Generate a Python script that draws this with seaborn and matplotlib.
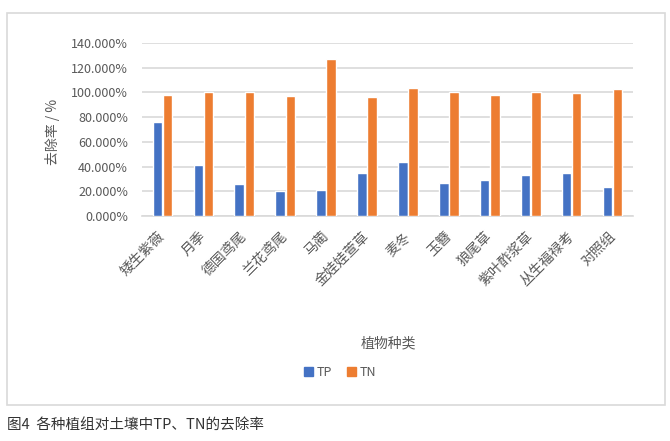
import matplotlib
matplotlib.use("Agg")
import matplotlib.pyplot as plt
from matplotlib.patches import Rectangle
from matplotlib.ticker import FuncFormatter
import seaborn as sns
import pandas as pd

plants = ["矮生紫薇", "月季", "德国鸢尾", "兰花鸢尾", "马蔺", "金娃娃萱草",
          "麦冬", "玉簪", "狼尾草", "紫叶酢浆草", "丛生福禄考", "对照组"]
tp = [75.8, 41.2, 25.7, 20.6, 21.1, 34.9, 43.6, 26.5, 29.2, 33.0, 34.4, 23.3]
tn = [97.8, 100.7, 100.5, 97.5, 127.3, 96.7, 103.4, 100.5, 97.8, 100.5, 99.4, 102.6]
series = ["TP", "TN"]
yticks = [0, 20, 40, 60, 80, 100, 120, 140]

df = pd.DataFrame({
    "植物种类": plants * 2,
    "去除率": tp + tn,
    "指标": ["TP"] * len(plants) + ["TN"] * len(plants),
})

sns.set_theme(style="white")
plt.rcParams["font.family"] = ["Noto Sans CJK SC", "DejaVu Sans"]

fig = plt.figure(figsize=(6.7, 4.41), dpi=100)
ax = fig.add_axes([142/670, 1-216/441, (633-142)/670, (216-43)/441])

palette = {"TP": "#4472C4", "TN": "#ED7D31"}
sns.barplot(data=df, x="植物种类", y="去除率", hue="指标", hue_order=series,
            palette=palette, width=0.5, gap=0.07, ax=ax, legend=False,
            saturation=1, zorder=3)

ax.set_ylim(0, 140)
ax.set_yticks(yticks)
ax.yaxis.set_major_formatter(FuncFormatter(lambda v, p: f"{v:.3f}%"))
ax.grid(axis="y", color="#D9D9D9", linewidth=1.2, zorder=0)
ax.set_axisbelow(True)
for s in ["top", "right", "left"]:
    ax.spines[s].set_visible(False)
ax.spines["bottom"].set_color("#D9D9D9")
ax.spines["bottom"].set_linewidth(1.2)
ax.tick_params(axis="both", length=0, colors="#595959")
ax.tick_params(axis="y", labelsize=9, pad=10)
ax.tick_params(axis="x", labelsize=10, pad=13)
for lab in ax.get_xticklabels():
    lab.set_rotation(45)
    lab.set_ha("right")
    lab.set_rotation_mode("anchor")
    lab.set_va("center")
ax.set_xlabel("")
ax.set_ylabel("")

fig.text(53/670, 1-132/441, "去除率 / %", rotation=90, ha="center", va="center",
         fontsize=10, color="#595959")
fig.text(388/670, 1-343/441, "植物种类", ha="center", va="center",
         fontsize=10, color="#595959")

handles = [Rectangle((0, 0), 1, 1, color=palette[s]) for s in series]
fig.legend(handles, series, loc="center", bbox_to_anchor=(340/670, 1-372/441),
           ncol=2, frameon=False, handlelength=0.7, handleheight=0.7,
           columnspacing=1.2, handletextpad=0.3, fontsize=9,
           labelcolor="#595959")

fig.patches.append(Rectangle((7/670, 1-405/441), (665-7)/670, (405-13)/441,
                             transform=fig.transFigure, fill=False,
                             edgecolor="#D9D9D9", linewidth=1.2))

fig.text(7/670, 1-425/441, "图4  各种植组对土壤中TP、TN的去除率", ha="left",
         va="center", fontsize=10.5, color="#333333")

fig.savefig("out.png", dpi=100)
